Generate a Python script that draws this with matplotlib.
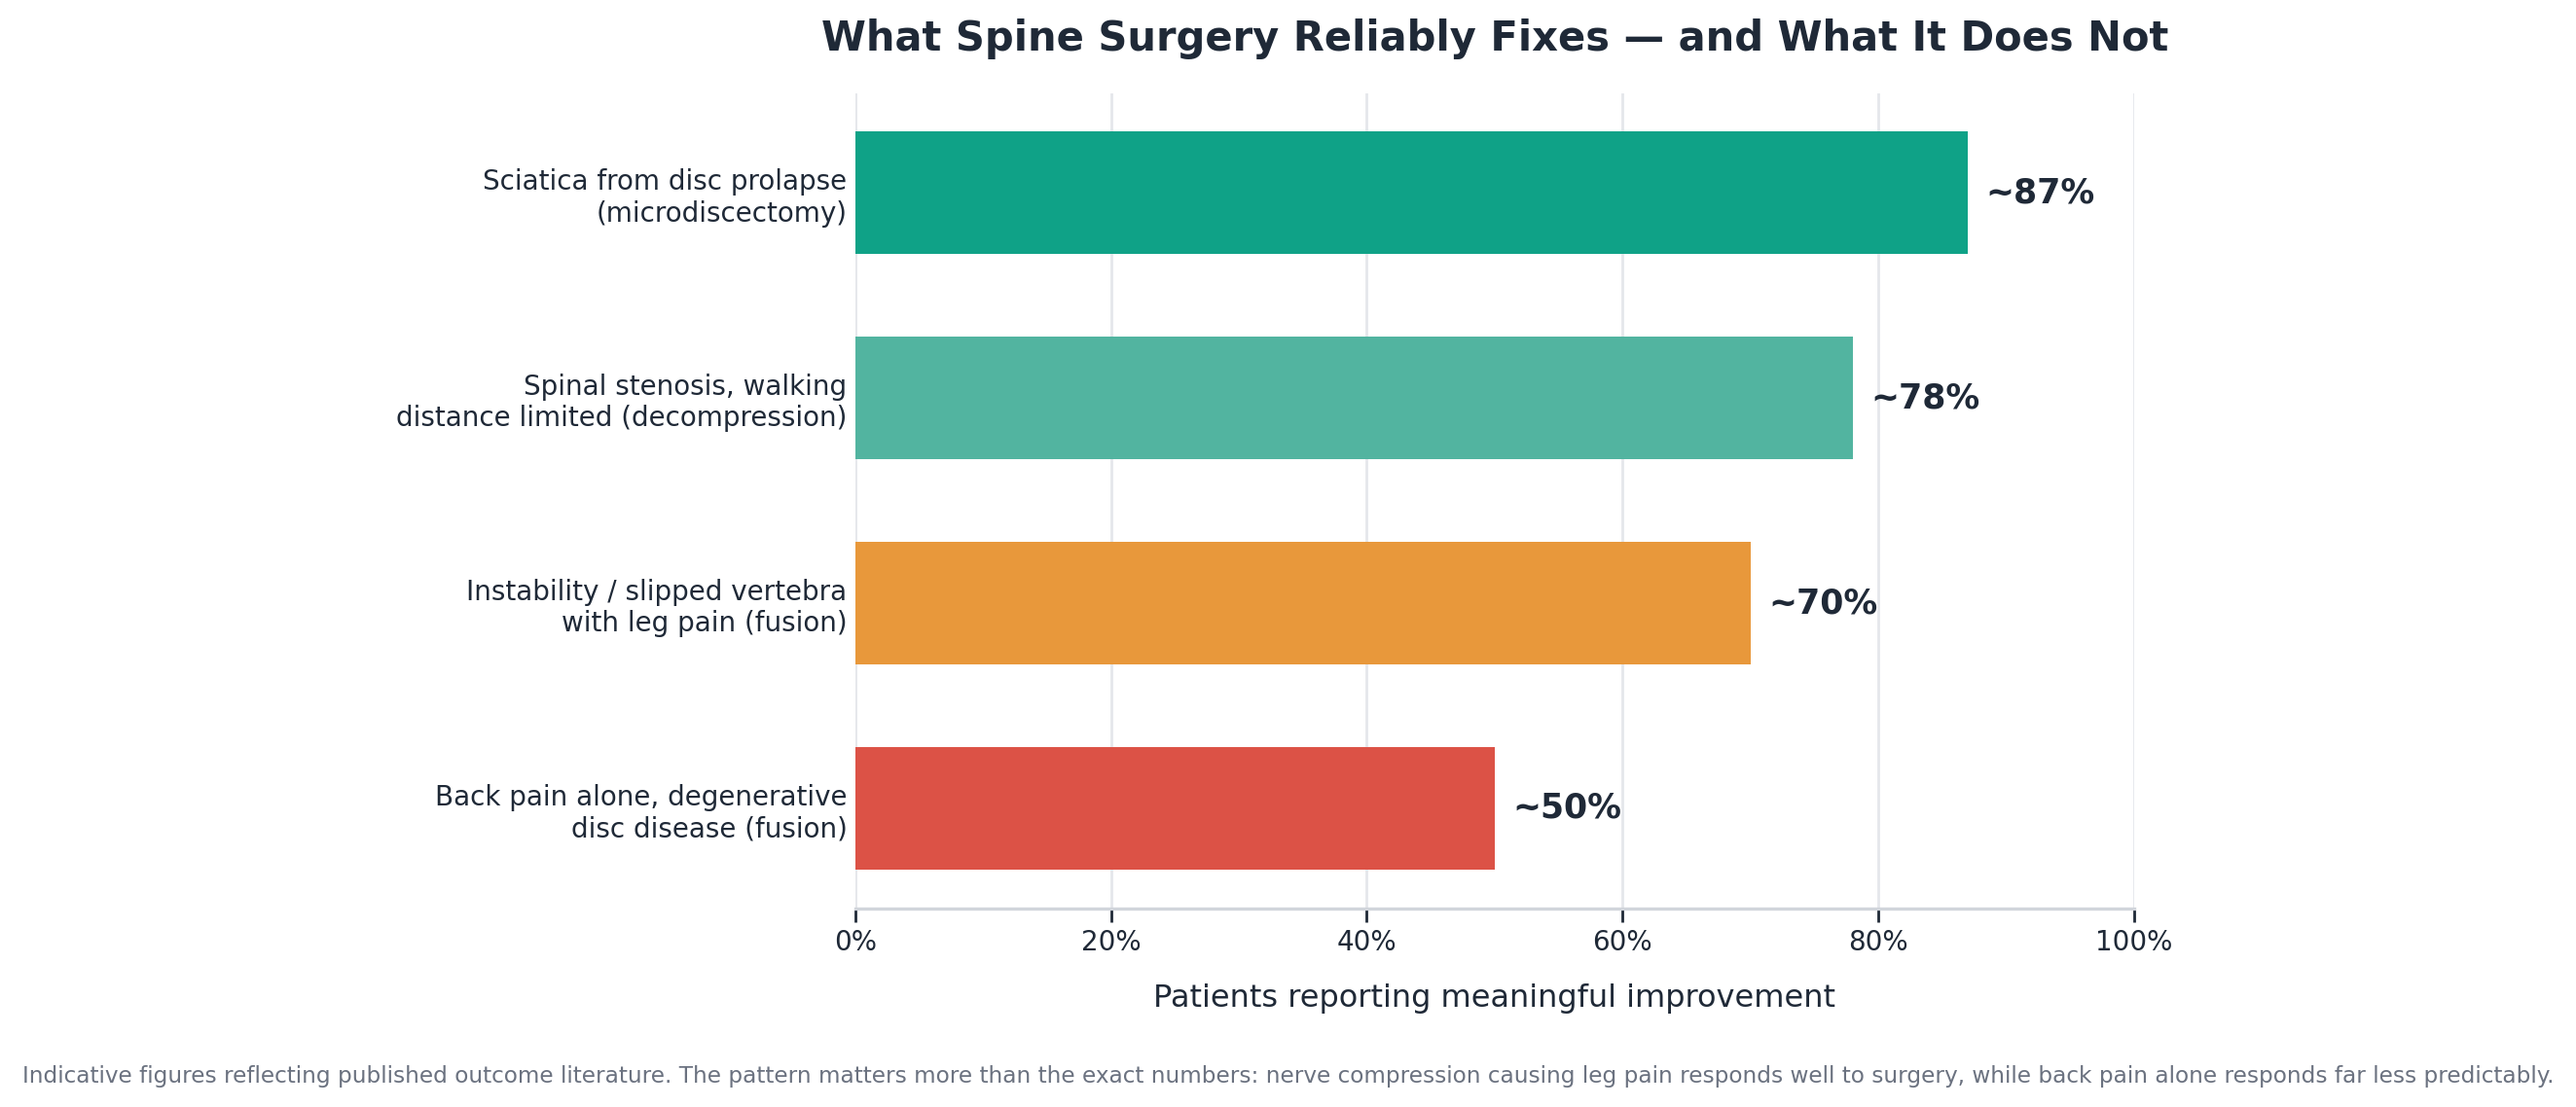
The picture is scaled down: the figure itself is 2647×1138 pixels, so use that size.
import matplotlib
matplotlib.use("Agg")
import matplotlib.pyplot as plt
from matplotlib.ticker import PercentFormatter

# data
categories = [
    "Sciatica from disc prolapse\n(microdiscectomy)",
    "Spinal stenosis, walking\ndistance limited (decompression)",
    "Instability / slipped vertebra\nwith leg pain (fusion)",
    "Back pain alone, degenerative\ndisc disease (fusion)",
]
values = [87, 78, 70, 50]
labels = ["~87%", "~78%", "~70%", "~50%"]
colors = ["#0fa287", "#52b4a0", "#e8983b", "#dc5246"]

dark = "#1f2937"
grey = "#6b7280"

fig = plt.figure(figsize=(13.235, 5.69), dpi=200)
ax = fig.add_axes([0.332, 0.179, 0.4965, 0.7366])

ypos = list(range(len(categories)))
ax.barh(ypos, values, height=0.6, color=colors, zorder=2)
ax.set_yticks(ypos)
ax.set_yticklabels(categories, fontsize=10, color=dark)

for y, v, t in zip(ypos, values, labels):
    ax.text(v + 1.4, y, t, va="center", ha="left", fontsize=12.5,
            fontweight="bold", color=dark)

ax.set_xlim(0, 100)
ax.set_ylim(3.49, -0.484)
ax.xaxis.set_major_formatter(PercentFormatter(decimals=0))
ax.set_xticks([0, 20, 40, 60, 80, 100])
ax.tick_params(axis="x", labelsize=10, colors=dark, length=5, width=1, pad=2.5)
ax.tick_params(axis="y", length=0, pad=3)
ax.grid(axis="x", color="#e5e7eb", linewidth=1, zorder=0)
for s in ["top", "right", "left"]:
    ax.spines[s].set_visible(False)
ax.spines["bottom"].set_color("#d1d5db")
ax.spines["bottom"].set_linewidth(1.2)

ax.set_xlabel("Patients reporting meaningful improvement", fontsize=11.5,
              color=dark, labelpad=10)
ax.set_title("What Spine Surgery Reliably Fixes \u2014 and What It Does Not",
             fontsize=15, fontweight="bold", color=dark, pad=15.8)

fig.text(0.5, 0.028,
         "Indicative figures reflecting published outcome literature. The pattern matters more than the exact numbers: "
         "nerve compression causing leg pain responds well to surgery, while back pain alone responds far less predictably.",
         ha="center", va="center", fontsize=8.35, color=grey)

fig.savefig("out.png", dpi=200)
